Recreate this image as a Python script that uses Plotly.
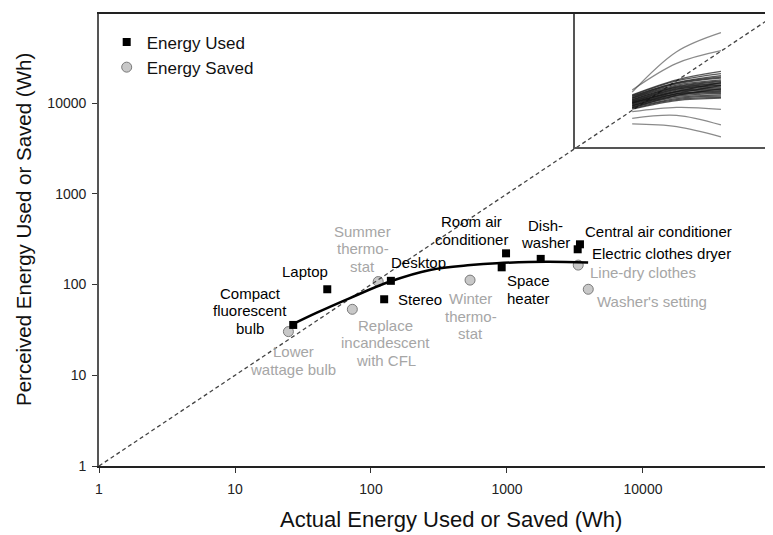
import plotly.graph_objects as go

# ---------------- data ----------------
used_names = ["Compact fluorescent bulb", "Laptop", "Stereo", "Desktop", "Space heater",
              "Room air conditioner", "Dishwasher", "Electric clothes dryer", "Central air conditioner"]
used_actual = [26.8, 47.7, 125, 140, 914, 984, 1770, 3310, 3440]
used_perceived = [35.9, 88.8, 68.9, 110, 155, 221, 192, 245, 278]

saved_names = ["Lower wattage bulb", "Replace incandescent with CFL", "Summer thermostat",
               "Winter thermostat", "Line-dry clothes", "Washer's setting"]
saved_actual = [24.7, 72.9, 113, 535, 3340, 3960]
saved_perceived = [30.3, 53.4, 108, 112, 164, 88.8]

fit_actual = [26, 40, 70, 138, 272, 540, 840, 1960, 3950]
fit_perceived = [36, 49, 71, 108, 145, 164, 172, 179, 175]

diag = [1, 100000]

# inset: individual participant curves (start, middle, end) in Wh
inset_actual = [27, 350, 4500]
inset_outer = [
    (114, 3700, 19200), (137, 1365, 4070),
    (21, 30.6, 25.8), (11.9, 15.4, 6.7), (7.3, 5.8, 2.4),
]
inset_bundle = [
    (90, 330, 680), (85, 300, 560), (80, 260, 470), (75, 250, 420), (70, 230, 380),
    (68, 210, 330), (65, 190, 300), (60, 180, 280), (58, 170, 250), (55, 160, 230),
    (52, 150, 210), (50, 145, 200), (48, 135, 180), (46, 125, 165), (44, 118, 150),
    (42, 110, 140), (40, 100, 130), (38, 95, 120), (36, 88, 110), (34, 80, 100),
    (32, 72, 90), (30, 65, 80), (28, 60, 72), (26, 55, 68), (45, 120, 260),
    (35, 100, 200), (30, 85, 150),
]

tick_vals = [1, 10, 100, 1000, 10000]
tick_text = ["1", "10", "100", "1000", "10000"]

# ---------------- layout geometry (page has an 8px body margin) ----------------
OFF = 8
W, H = 773 - OFF, 535 - OFF
L, R, T, B = 99 - OFF, 0, 14 - OFF, 69
PW, PH = W - L - R, H - T - B
XR = [0, 4.956]
YR = [0, 4.983]
FONT = "Liberation Sans, Arial, sans-serif"
BLACK = "#000000"
GRAY = "#a6a6a6"


def px(xp, yp):
    """reference-picture pixel -> paper coords"""
    return (xp - OFF - L) / PW, (H - B - (yp - OFF)) / PH


fig = go.Figure()

# inset curves
for c in inset_outer:
    fig.add_trace(go.Scatter(x=inset_actual, y=list(c), mode="lines",
                             line=dict(color="rgba(60,60,60,0.6)", width=1.3, shape="spline"),
                             xaxis="x2", yaxis="y2", showlegend=False, hoverinfo="skip"))
for c in inset_bundle:
    fig.add_trace(go.Scatter(x=inset_actual, y=list(c), mode="lines",
                             line=dict(color="rgba(20,20,20,0.7)", width=1.3, shape="spline"),
                             xaxis="x2", yaxis="y2", showlegend=False, hoverinfo="skip"))

# energy saved (circles)
fig.add_trace(go.Scatter(x=saved_actual, y=saved_perceived, mode="markers", name="Energy Saved",
                         text=saved_names, legendrank=2,
                         marker=dict(symbol="circle", size=10, color="#c8c8c8",
                                     line=dict(color="#7a7a7a", width=1))))

# y = x dashed line
fig.add_trace(go.Scatter(x=diag, y=diag, mode="lines", showlegend=False, hoverinfo="skip",
                         line=dict(color="#444444", width=1.3, dash="4px,3px")))

# fitted curve
fig.add_trace(go.Scatter(x=fit_actual, y=fit_perceived, mode="lines", showlegend=False,
                         line=dict(color="#000000", width=2.5, shape="spline")))

# energy used (squares)
fig.add_trace(go.Scatter(x=used_actual, y=used_perceived, mode="markers", name="Energy Used",
                         text=used_names, legendrank=1,
                         marker=dict(symbol="square", size=8, color="#000000")))

# ---------------- labels ----------------
labels = [
    (["Compact", "fluorescent", "bulb"], 250, 293, "center", BLACK),
    (["Laptop"], 305, 271, "center", BLACK),
    (["Desktop"], 418.3, 262.7, "center", BLACK),
    (["Stereo"], 395.7, 299.3, "left", BLACK),
    (["Room air", "conditioner"], 471.7, 221.7, "center", BLACK),
    (["Space", "heater"], 528.3, 280.7, "center", BLACK),
    (["Dish-", "washer"], 545, 225, "center", BLACK),
    (["Central air conditioner"], 583.3, 231, "left", BLACK),
    (["Electric clothes dryer"], 590, 253.3, "left", BLACK),
    (["Lower", "wattage bulb"], 293, 351.7, "center", GRAY),
    (["Summer", "thermo-", "stat"], 362.5, 231, "center", GRAY),
    (["Replace", "incandescent", "with CFL"], 385.7, 325, "center", GRAY),
    (["Winter", "thermo-", "stat"], 470.7, 298.3, "center", GRAY),
    (["Line-dry clothes"], 588.3, 272.7, "left", GRAY),
    (["Washer's setting"], 595, 301.7, "left", GRAY),
]
LINE_H = 17.8
annotations = []
for lines, ax_px, y0, anchor, col in labels:
    for i, line in enumerate(lines):
        xp, yp = px(ax_px, y0 + i * LINE_H)
        annotations.append(dict(text=line, x=xp, y=yp, xref="paper", yref="paper",
                                xanchor=anchor, yanchor="middle", showarrow=False,
                                font=dict(family=FONT, size=15, color=col)))

# axis titles
xt = px(451, 519)
annotations.append(dict(text="Actual Energy Used or Saved (Wh)", x=xt[0], y=xt[1],
                        xref="paper", yref="paper", xanchor="center", yanchor="middle",
                        showarrow=False, font=dict(family=FONT, size=22, color="#111111")))
yt = px(24, 230)
annotations.append(dict(text="Perceived Energy Used or Saved (Wh)", x=yt[0], y=yt[1],
                        xref="paper", yref="paper", xanchor="center", yanchor="middle",
                        textangle=-90, showarrow=False,
                        font=dict(family=FONT, size=20.5, color="#111111")))

ix0, iy0 = px(575, 147)

fig.update_layout(
    width=W, height=H, autosize=False,
    margin=dict(l=L, r=R, t=T, b=B),
    paper_bgcolor="white", plot_bgcolor="rgba(0,0,0,0)",
    font=dict(family=FONT, color="#222222"),
    showlegend=True,
    legend=dict(x=px(106.7, 0)[0], y=px(0, 24.5)[1], xanchor="left", yanchor="top",
                bgcolor="rgba(0,0,0,0)", font=dict(family=FONT, size=17, color="#111111"),
                tracegroupgap=0),
    xaxis=dict(type="log", range=XR, domain=[0, 1], tickvals=tick_vals, ticktext=tick_text,
               showgrid=False, zeroline=False, showline=True, linecolor="#222222", linewidth=1.8,
               mirror=True, ticks="outside", ticklen=5, tickwidth=1.3, tickcolor="#333333",
               ticklabelstandoff=4,
               tickfont=dict(family=FONT, size=14, color="#222222")),
    yaxis=dict(type="log", range=YR, domain=[0, 1], tickvals=tick_vals, ticktext=tick_text,
               showgrid=False, zeroline=False, showline=True, linecolor="#555555", linewidth=1.8,
               ticks="outside", ticklen=5, tickwidth=1.3, tickcolor="#333333",
               ticklabelstandoff=3,
               tickfont=dict(family=FONT, size=14, color="#222222")),
    xaxis2=dict(type="log", range=XR, domain=[ix0, 1], anchor="y2", showgrid=False,
                zeroline=False, showline=True, linecolor="#555555", linewidth=1.5,
                showticklabels=False, ticks=""),
    yaxis2=dict(type="log", range=YR, domain=[iy0, 1], anchor="x2", showgrid=False,
                zeroline=False, showline=True, linecolor="#555555", linewidth=1.5,
                showticklabels=False, ticks=""),
    annotations=annotations,
)

fig.write_html("out.html")
